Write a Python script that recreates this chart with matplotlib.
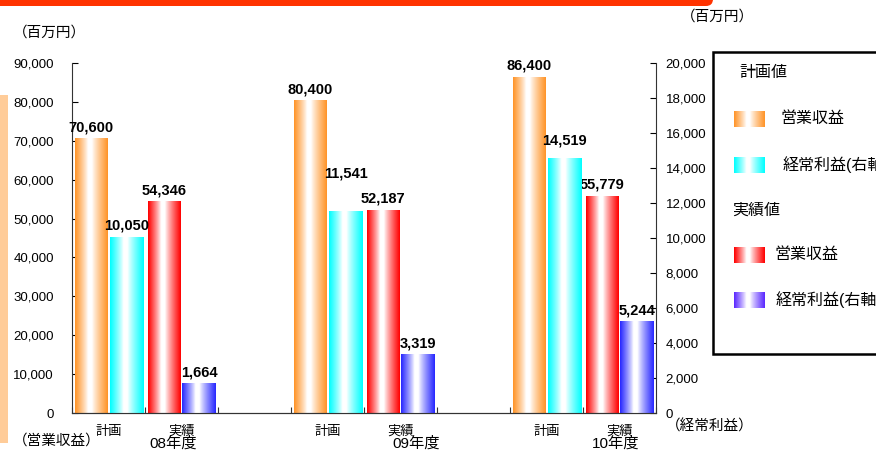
import numpy as np
import matplotlib
matplotlib.use("Agg")
import matplotlib.pyplot as plt
from matplotlib.patches import Rectangle, FancyBboxPatch

plt.rcParams['font.family'] = ['Liberation Sans', 'Noto Sans CJK JP', 'DejaVu Sans']

# data (百万円)
years = ['08年度', '09年度', '10年度']
kinds = ['計画', '実績']
plan_revenue = [70600, 80400, 86400]
plan_profit = [10050, 11541, 14519]
actual_revenue = [54346, 52187, 55779]
actual_profit = [1664, 3319, 5244]

left_ticks = [0, 10000, 20000, 30000, 40000, 50000, 60000, 70000, 80000, 90000]
right_ticks = [0, 2000, 4000, 6000, 8000, 10000, 12000, 14000, 16000, 18000, 20000]

ORANGE = '#ff9428'
CYAN = '#00ffff'
RED = '#ff0000'
BLUE = '#2828ff'
LEG_BLUE = '#5a28ff'

W, H = 876, 450

# extra lift (points) for the 計画 経常利益 labels so they clear neighbours
plan_profit_lift = [3, 22, 8]


def gradient(color, n=80):
    """one-row image: colour at the edges, white towards the middle"""
    c = np.array(matplotlib.colors.to_rgb(color))
    u = np.linspace(0, 1, n)
    mid = 0.45
    w = np.where(u < mid, (mid - u) / mid, (u - mid) / (1 - mid))
    w = np.clip((w - 0.12) / 0.88, 0, 1) ** 0.85
    rgb = 1 - (1 - c)[None, :] * w[:, None]
    return rgb[None, :, :]


def grad_bar(ax, x0, x1, top, color):
    ax.imshow(gradient(color), extent=[x0, x1, 0, top], aspect='auto',
              interpolation='bilinear', zorder=2)


fig = plt.figure(figsize=(W / 100, H / 100), dpi=100)
ax = fig.add_axes([72 / W, 1 - 413 / H, (656 - 72) / W, 350 / H])
ax2 = ax.twinx()

# each year takes 3 slots: 計画, 実績, gap
for k in range(len(years)):
    p = 3 * k
    a = 3 * k + 1
    bars = [
        (ax, p + 0.04, p + 0.49, plan_revenue[k], ORANGE, 3),
        (ax2, p + 0.52, p + 0.98, plan_profit[k], CYAN, plan_profit_lift[k]),
        (ax, a + 0.04, a + 0.49, actual_revenue[k], RED, 3),
        (ax2, a + 0.51, a + 0.97, actual_profit[k], BLUE, 3),
    ]
    for axis, x0, x1, v, col, lift in bars:
        grad_bar(axis, x0, x1, v, col)
        axis.annotate(f"{v:,}", ((x0 + x1) / 2, v), xytext=(0, lift),
                      textcoords='offset points', ha='center', va='bottom',
                      fontsize=10.5, fontweight='bold', zorder=5)

ax.set_xlim(0, 8)
ax.set_ylim(0, 90000)
ax2.set_ylim(0, 20000)

ax.set_yticks(left_ticks)
ax.set_yticklabels([f"{t:,}" for t in left_ticks])
ax2.set_yticks(right_ticks)
ax2.set_yticklabels([f"{t:,}" for t in right_ticks])

slot_centers = []
slot_labels = []
for k in range(len(years)):
    for j, kind in enumerate(kinds):
        slot_centers.append(3 * k + j + 0.5)
        slot_labels.append(kind)
ax.set_xticks(range(9), minor=False)
ax.set_xticklabels([])
ax.set_xticks(slot_centers, minor=True)
ax.set_xticklabels(slot_labels, minor=True, fontsize=9.5)
ax.tick_params(axis='x', which='minor', length=0, pad=9)
ax.tick_params(axis='x', which='major', direction='in', length=4, color='#333333')

ax.tick_params(axis='y', direction='in', length=4, labelsize=9.5, pad=13)
ax2.tick_params(axis='y', direction='in', length=4, labelsize=9.5, pad=7)

for a_ in (ax, ax2):
    a_.spines['top'].set_visible(False)
    for s in ('left', 'right', 'bottom'):
        a_.spines[s].set_color('#333333')
ax.spines['right'].set_visible(False)
ax2.spines['left'].set_visible(False)
ax.patch.set_visible(False)

# year labels under each pair
year_label_x = [1.39, 4.71, 7.45]
for x, yl in zip(year_label_x, years):
    ax.text(x, -0.086, yl, transform=ax.get_xaxis_transform(),
            ha='center', va='center', fontsize=11)

# overlay in pixel coordinates for the frame decorations and legend
ov = fig.add_axes([0, 0, 1, 1])
ov.set_xlim(0, W)
ov.set_ylim(H, 0)
ov.axis('off')
ov.patch.set_visible(False)

ov.add_patch(FancyBboxPatch((-20, -10), 733, 16, boxstyle="round,pad=0,rounding_size=7",
                            facecolor='#ff3300', edgecolor='none'))
ov.add_patch(Rectangle((0, 95), 8, 348, facecolor='#ffcc99', edgecolor='none'))

ov.text(13, 33, '（百万円）', ha='left', va='center', fontsize=10.5)
ov.text(681, 17, '（百万円）', ha='left', va='center', fontsize=10.5)
ov.text(13, 441, '（営業収益）', ha='left', va='center', fontsize=10.5)
ov.text(666, 427, '（経常利益）', ha='left', va='center', fontsize=10.5)

# legend
ov.add_patch(Rectangle((713, 52), 200, 302, facecolor='white',
                       edgecolor='black', linewidth=1.8))
legend_rows = [
    (None, '計画値', 739, 73),
    (ORANGE, '営業収益', 780, 119),
    (CYAN, '経常利益(右軸)', 783, 165),
    (None, '実績値', 732, 210),
    (RED, '営業収益', 775, 255),
    (LEG_BLUE, '経常利益(右軸)', 776, 300),
]
for col, label, tx, ty in legend_rows:
    if col is not None:
        ov.imshow(gradient(col), extent=[734, 765, ty + 8, ty - 8], aspect='auto',
                  interpolation='bilinear', zorder=3)
    ov.text(tx, ty, label, ha='left', va='center', fontsize=11.5)
ov.set_xlim(0, W)
ov.set_ylim(H, 0)

fig.savefig('out.png', dpi=100)
